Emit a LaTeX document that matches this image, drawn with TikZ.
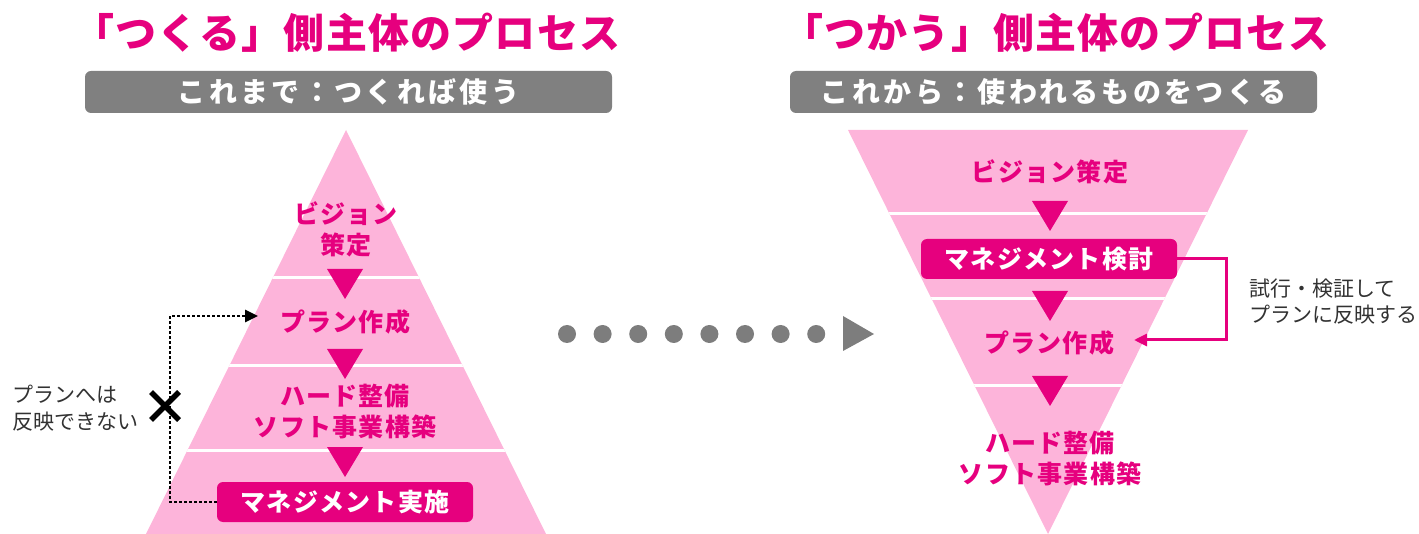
\documentclass[tikz,border=0pt]{standalone}
\usepackage{fontspec}
\setmainfont{Noto Sans CJK JP}
\newfontfamily\jpls{Noto Sans CJK JP}[LetterSpace=5]
\newfontfamily\jpsub{Noto Sans CJK JP}[LetterSpace=12]
\newfontfamily\jpttl{Noto Sans CJK JP}[LetterSpace=3]
\usetikzlibrary{arrows.meta}
\definecolor{mag}{RGB}{230,0,126}
\definecolor{pinkfill}{RGB}{253,180,218}
\definecolor{boxgray}{RGB}{128,128,128}
\definecolor{dotgray}{RGB}{125,125,125}
\definecolor{notegray}{RGB}{50,50,50}
\tikzset{
  ttl/.style={text=mag, font=\jpttl\bfseries\fontsize{41}{41}\selectfont, inner sep=0pt},
  subbox/.style={fill=boxgray, rounded corners=6pt, minimum width=527pt, minimum height=42pt, inner sep=0pt, text=white, font=\jpsub\bfseries\fontsize{28}{28}\selectfont},
  lab/.style={text=mag, font=\jpls\bfseries\fontsize{25}{31}\selectfont, align=center, inner sep=0pt},
  mbox/.style={fill=mag, rounded corners=6pt, minimum width=256pt, minimum height=40pt, inner sep=0pt, text=white, font=\jpls\bfseries\fontsize{25}{25}\selectfont},
  note/.style={text=notegray, font=\fontsize{21}{27}\selectfont, align=left, anchor=west, inner sep=0pt},
  sepline/.style={white, line width=3pt},
  downarrow/.style={fill=mag},
  fbline/.style={line width=3pt, -{Triangle[length=13pt,width=12pt]}},
}
\newcommand\downtri[2]{\fill[downarrow] (#1-18,#2) -- (#1+18,#2) -- (#1,#2+30) -- cycle;}
\begin{document}
\begin{tikzpicture}[x=1pt,y=-1pt]
\useasboundingbox (0,0) rectangle (1419,534);
% titles
\node[ttl] (t1) at (347,33) {「つくる」側主体のプロセス};
\node[ttl] (t2) at (1056,33) {「つかう」側主体のプロセス};
\node[subbox] (s1) at (348.5,92) {これまで：つくれば使う};
\node[subbox] (s2) at (1053.5,92) {これから：使われるものをつくる};
% left pyramid
\fill[pinkfill] (346,130) -- (546,534) -- (146,534) -- cycle;
\begin{scope}
\clip (346,130) -- (546,534) -- (146,534) -- cycle;
\draw[sepline] (100,278) -- (600,278);
\draw[sepline] (100,366) -- (600,366);
\draw[sepline] (100,450) -- (600,450);
\end{scope}
\downtri{345}{269}
\downtri{345}{349}
\downtri{345}{447}
\node[lab] (l1) at (346,229) {ビジョン\\策定};
\node[lab] (l2) at (345,322) {プラン作成};
\node[lab] (l3) at (345,412) {ハード整備\\ソフト事業構築};
\node[mbox] (l4) at (345,502) {マネジメント実施};
% dotted feedback (blocked)
\coordinate (lc1) at (170,502);
\coordinate (lc2) at (170,316);
\coordinate (ltip) at (258,316);
\draw[line width=2.8pt, dash pattern=on 2.6pt off 2.4pt, -{Triangle[length=13pt,width=12pt]}] (l4.west) -- (lc1) -- (lc2) -- (ltip);
\draw[line width=5.5pt] (151,392) -- (179,420);
\draw[line width=5.5pt] (151,420) -- (179,392);
\node[note] (n1) at (12,408) {プランへは\\反映できない};
% middle dots
\foreach \i in {0,...,7} {
  \fill[dotgray] ({567+35.6*\i},334) circle (9);
}
\fill[dotgray] (843,316) -- (874,334) -- (843,351) -- cycle;
% right inverted pyramid
\fill[pinkfill] (848,130) -- (1248,130) -- (1048,534) -- cycle;
\begin{scope}
\clip (848,130) -- (1248,130) -- (1048,534) -- cycle;
\draw[sepline] (800,214) -- (1300,214);
\draw[sepline] (800,299) -- (1300,299);
\draw[sepline] (800,386) -- (1300,386);
\end{scope}
\downtri{1050}{201}
\downtri{1050}{291}
\downtri{1050}{376}
\node[lab] (r1) at (1050,172) {ビジョン策定};
\node[mbox] (r2) at (1049,259) {マネジメント検討};
\node[lab] (r3) at (1049,343) {プラン作成};
\node[lab] (r4) at (1050,459) {ハード整備\\ソフト事業構築};
% feedback loop
\coordinate (rc1) at (1226,259);
\coordinate (rc2) at (1226,340);
\coordinate (rtip) at (1134,340);
\draw[mag, fbline] (r2.east) -- (rc1) -- (rc2) -- (rtip);
\node[note, font=\fontsize{21}{26}\selectfont] (n2) at (1249,302) {試行・検証して\\プランに反映する};
\end{tikzpicture}
\end{document}
